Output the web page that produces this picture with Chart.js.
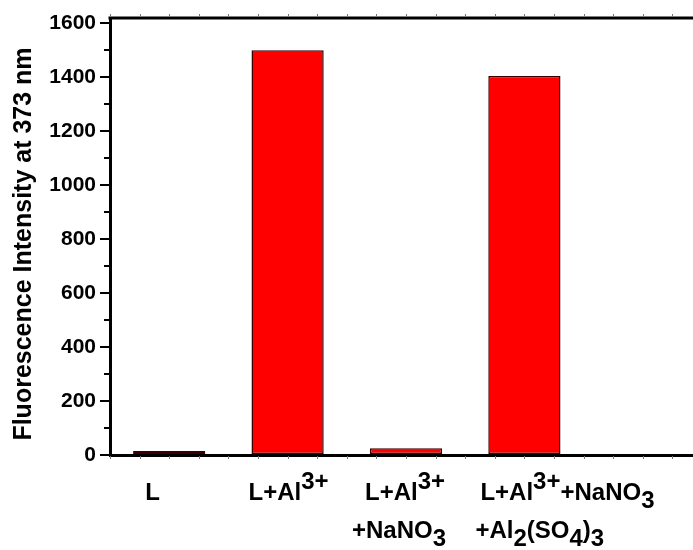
<!DOCTYPE html>
<html>
<head>
<meta charset="utf-8">
<script src="https://cdn.jsdelivr.net/npm/chart.js@4/dist/chart.umd.min.js"></script>
<style>
  html, body { margin: 0; padding: 0; background: #fff; }
  #wrap { width: 693px; height: 550px; }
</style>
</head>
<body>
<div id="wrap"><canvas id="c" width="693" height="550"></canvas></div>
<script>
// ---- data ----
const categories = ["L", "L+Al3+", "L+Al3+ +NaNO3", "L+Al3+ +NaNO3 +Al2(SO4)3"];
const intensity = [15, 1500, 25, 1405];
const yTicks = [0, 200, 400, 600, 800, 1000, 1200, 1400, 1600];
const yMinorTicks = [100, 300, 500, 700, 900, 1100, 1300, 1500];
const yTitle = "Fluorescence Intensity at 373 nm";
// rich category labels: each line is a list of [text, shift] runs (shift: 0 normal, 1 sup, -1 sub)
const labelLines = [
  [ [["L", 0]] ],
  [ [["L+Al", 0], ["3+", 1]] ],
  [ [["L+Al", 0], ["3+", 1]], [["+NaNO", 0], ["3", -1]] ],
  [ [["L+Al", 0], ["3+", 1], ["+NaNO", 0], ["3", -1]], [["+Al", 0], ["2", -1], ["(SO", 0], ["4", -1], [")", 0], ["3", -1]] ]
];

const xPos = categories.map((_, i) => i + 1);
const points = xPos.map((x, i) => ({ x: x, y: intensity[i] }));

// label layout (left offsets from bar centre, per line)
const labelOffsets = [[-24], [-39], [-41, -54], [-44, -49]];
const FAMILY = "'Liberation Sans', Arial, sans-serif";
const FONT = "bold 24px " + FAMILY;

const decorPlugin = {
  id: 'decor',
  afterDraw(chart) {
    const ctx = chart.ctx;
    const a = chart.chartArea;
    const xs = chart.scales.x, ys = chart.scales.y;
    ctx.save();
    // top frame line
    ctx.strokeStyle = '#000';
    ctx.lineWidth = 3;
    ctx.beginPath();
    ctx.moveTo(a.left - 1.5, a.top);
    ctx.lineTo(a.right, a.top);
    ctx.stroke();
    // y minor ticks
    ctx.lineWidth = 2;
    yMinorTicks.forEach(v => {
      const y = Math.round(ys.getPixelForValue(v));
      ctx.beginPath();
      ctx.moveTo(a.left - 6, y);
      ctx.lineTo(a.left, y);
      ctx.stroke();
    });
    // x minor ticks (every quarter unit) on bottom and top
    ctx.strokeStyle = '#777';
    ctx.lineWidth = 1;
    for (let v = xs.min; v <= xs.max + 1e-9; v += 0.25) {
      const x = Math.round(xs.getPixelForValue(v)) + 0.5;
      ctx.beginPath();
      ctx.moveTo(x, a.bottom + 1);
      ctx.lineTo(x, a.bottom + 4);
      ctx.moveTo(x, a.top - 1);
      ctx.lineTo(x, a.top - 4);
      ctx.stroke();
    }
    // y axis title
    ctx.fillStyle = '#000';
    ctx.save();
    ctx.font = "bold 25px " + FAMILY;
    ctx.translate(31, 244);
    ctx.rotate(-Math.PI / 2);
    ctx.textAlign = 'center';
    ctx.textBaseline = 'alphabetic';
    ctx.fillText(yTitle, 0, 0);
    ctx.restore();
    // category labels
    ctx.font = FONT;
    ctx.textAlign = 'left';
    ctx.textBaseline = 'alphabetic';
    const baselines = [500, 538];
    labelLines.forEach((lines, i) => {
      const cx = xs.getPixelForValue(xPos[i]);
      lines.forEach((runs, li) => {
        let x = cx + labelOffsets[i][li];
        const base = baselines[li];
        runs.forEach(([t, s]) => {
          const y = base + (s === 1 ? -11 : s === -1 ? 8 : 0);
          ctx.fillText(t, x, y);
          x += ctx.measureText(t).width;
        });
      });
    });
    ctx.restore();
  }
};

new Chart(document.getElementById('c'), {
  type: 'bar',
  data: {
    datasets: [{
      data: points,
      backgroundColor: '#ff0000',
      borderColor: '#3a0000',
      borderWidth: 1.5,
      borderSkipped: false,
      barPercentage: 0.61,
      categoryPercentage: 1.0
    }]
  },
  options: {
    responsive: false,
    animation: false,
    events: [],
    layout: { padding: { top: 18, right: 0, bottom: 95, left: 0 } },
    plugins: { legend: { display: false }, tooltip: { enabled: false } },
    scales: {
      x: {
        type: 'linear',
        offset: false,
        min: 0.5,
        max: 5.424,
        afterBuildTicks: s => { s.ticks = xPos.map(v => ({ value: v })); },
        ticks: { display: false },
        grid: { display: false, offset: false },
        border: { display: true, color: '#000', width: 3 },
        afterFit: s => { s.height = 0; }
      },
      y: {
        min: 0,
        max: 1620,
        afterBuildTicks: s => { s.ticks = yTicks.map(v => ({ value: v })); },
        ticks: {
          color: '#000',
          padding: 4,
          callback: v => String(v),
          font: { family: FAMILY, size: 21, weight: 'bold' }
        },
        grid: { drawOnChartArea: false, color: '#000', lineWidth: 2, tickLength: 10 },
        border: { display: true, color: '#000', width: 3 },
        title: { display: false },
        afterFit: s => { s.width = 110; }
      }
    }
  },
  plugins: [decorPlugin]
});
</script>
</body>
</html>
